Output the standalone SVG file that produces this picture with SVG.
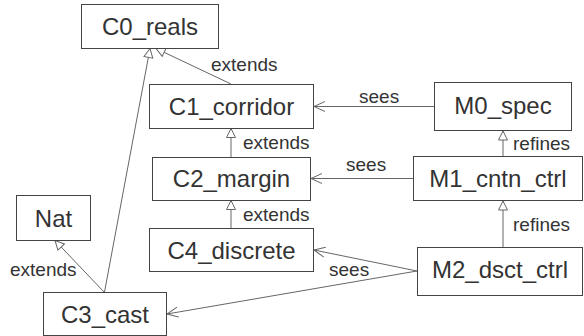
<svg xmlns="http://www.w3.org/2000/svg" width="584" height="336" viewBox="0 0 584 336">
<style>
.box{fill:#fff;stroke:#444;stroke-width:1}
.nt{font-family:"Liberation Sans",Arial,sans-serif;font-size:24px;fill:#333;text-anchor:middle}
.el{font-family:"Liberation Sans",Arial,sans-serif;font-size:19px;fill:#333}
.ln{fill:none;stroke:#666;stroke-width:1}
.ext{marker-end:url(#tri)}
.see{marker-end:url(#open)}
</style>
<defs>
<marker id="tri" markerUnits="userSpaceOnUse" markerWidth="12" markerHeight="12" refX="9" refY="4.5" orient="auto" overflow="visible">
<path d="M0,0 L9,4.5 L0,9 Z" fill="#fff" stroke="#666" stroke-width="1"/>
</marker>
<marker id="open" markerUnits="userSpaceOnUse" markerWidth="14" markerHeight="14" refX="11" refY="5" orient="auto" overflow="visible">
<path d="M0,0 L11,5 L0,10" fill="none" stroke="#666" stroke-width="1"/>
</marker>
</defs>
<rect width="584" height="336" fill="#fff"/>
<g id="connectors">
<line class="ln ext" x1="231" y1="84" x2="156" y2="48.5"/>
<line class="ln ext" x1="104.5" y1="292" x2="150" y2="48.5"/>
<line class="ln ext" x1="104" y1="292" x2="55" y2="240.5"/>
<line class="ln ext" x1="231" y1="157" x2="231" y2="128.5"/>
<line class="ln ext" x1="231" y1="228" x2="231" y2="200.5"/>
<line class="ln see" x1="434" y1="106.5" x2="314" y2="106.5"/>
<line class="ln see" x1="413" y1="178.5" x2="311" y2="178.5"/>
<line class="ln ext" x1="503" y1="156" x2="503" y2="131"/>
<line class="ln ext" x1="503" y1="247" x2="503" y2="201"/>
<line class="ln see" x1="417" y1="271" x2="314" y2="250"/>
<line class="ln see" x1="417" y1="271" x2="167" y2="314"/>
<text class="el" x="211" y="70.5">extends</text>
<text class="el" x="243" y="148.5">extends</text>
<text class="el" x="243" y="221">extends</text>
<text class="el" x="359" y="102.5">sees</text>
<text class="el" x="346" y="171">sees</text>
<text class="el" x="513" y="150">refines</text>
<text class="el" x="513" y="230.5">refines</text>
<text class="el" x="329" y="276">sees</text>
<text class="el" x="10" y="276">extends</text>
</g>
<g id="C0_reals"><rect class="box" x="81.5" y="4.5" width="137" height="44"/><text class="nt" x="150" y="35">C0_reals</text></g>
<g id="C1_corridor"><rect class="box" x="149.5" y="84.5" width="164" height="44"/><text class="nt" x="231.5" y="115">C1_corridor</text></g>
<g id="C2_margin"><rect class="box" x="152.5" y="157.5" width="158" height="43"/><text class="nt" x="231.5" y="187">C2_margin</text></g>
<g id="C4_discrete"><rect class="box" x="149.5" y="228.5" width="164" height="43"/><text class="nt" x="231.5" y="258.5">C4_discrete</text></g>
<g id="Nat"><rect class="box" x="16.5" y="195.5" width="74" height="45"/><text class="nt" x="53.5" y="226.5">Nat</text></g>
<g id="C3_cast"><rect class="box" x="43.5" y="292.5" width="123" height="43"/><text class="nt" x="105" y="322.5">C3_cast</text></g>
<g id="M0_spec"><rect class="box" x="434.5" y="82.5" width="137" height="48"/><text class="nt" x="503" y="114">M0_spec</text></g>
<g id="M1_cntn_ctrl"><rect class="box" x="413.5" y="156.5" width="169" height="44"/><text class="nt" x="498" y="187">M1_cntn_ctrl</text></g>
<g id="M2_dsct_ctrl"><rect class="box" x="417.5" y="247.5" width="165" height="48"/><text class="nt" x="500" y="278">M2_dsct_ctrl</text></g>
</svg>
